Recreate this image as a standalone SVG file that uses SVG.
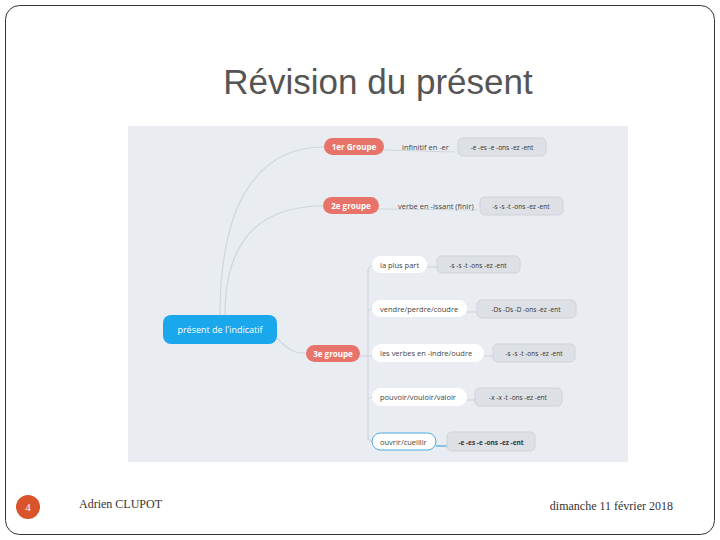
<svg xmlns="http://www.w3.org/2000/svg" width="720" height="540" viewBox="0 0 720 540">
<style>
.t{font-family:"Open Sans","Liberation Sans",sans-serif}
.red{fill:#e8736a}
.rt{font-family:"Open Sans","Liberation Sans",sans-serif;font-size:8px;font-weight:bold;fill:#fff;text-anchor:middle}
.lab{font-family:"Open Sans","Liberation Sans",sans-serif;font-size:7.5px;fill:#444}
.box{fill:#dde1e5;stroke:#cfd3d8;stroke-width:1}
.bt{font-family:"Open Sans","Liberation Sans",sans-serif;font-size:6.5px;fill:#333;text-anchor:middle}
.wp{fill:#fff}
.c{fill:none;stroke:#cfd6dc;stroke-width:1.2}
</style>
<rect x="5.5" y="5.5" width="709" height="529" rx="14" fill="#fff" stroke="#333" stroke-width="1"/>
<text x="378" y="94" font-family="Liberation Sans,sans-serif" font-size="35" fill="#555" text-anchor="middle">Révision du présent</text>
<rect x="128" y="126" width="500" height="336" fill="#e9edf1"/>
<g id="connectors">
<path class="c" d="M220 315 C220 200 260 147 324 147"/>
<path class="c" d="M225 315 C225 240 260 206 323 206"/>
<path class="c" d="M277 338 C290 352 295 353 306 353"/>
<path class="c" d="M384 150 L455 152"/>
<path class="c" d="M379 209 L478 210"/>
<path class="c" d="M360 356 L372 356"/>
<path class="c" d="M368 270 L368 440"/>
<path class="c" d="M368 272 Q368 265 375 265"/>
<path class="c" d="M368 312 Q368 309 375 309"/>
<path class="c" d="M368 400 Q368 397 375 397"/>
<path class="c" d="M368 436 Q368 442 375 442"/>
<path class="c" d="M427 267 L437 267"/>
<path class="c" d="M467 312 L477 312"/>
<path class="c" d="M484 356 L493 356"/>
<path class="c" d="M467 400 L475 400"/>
<path d="M436 446 L447 446" fill="none" stroke="#4aa8e0" stroke-width="1.2"/>
</g>
<g id="center"><rect x="163" y="315" width="114" height="29" rx="8" fill="#1aa7ec"/><text x="220" y="333" class="t" font-size="9" fill="#fff" text-anchor="middle">présent de l'indicatif</text></g>
<g id="g1"><rect x="324" y="138" width="60" height="17" rx="8.5" class="red"/><text x="354" y="150" class="rt">1er Groupe</text></g>
<g id="g1l"><text x="402" y="150" class="lab" font-size="6.5">infinitif en -er</text></g>
<g id="g1b"><rect x="458" y="138" width="88" height="18" rx="5" class="box"/><text x="502" y="150" class="bt">-e -es -e -ons -ez -ent</text></g>
<g id="g2"><rect x="323" y="197" width="56" height="17" rx="8.5" class="red"/><text x="351" y="209" class="rt">2e groupe</text></g>
<g id="g2l"><text x="398" y="209" class="lab" font-size="6.5">verbe en -issant (finir)</text></g>
<g id="g2b"><rect x="480" y="197" width="83" height="18" rx="5" class="box"/><text x="521" y="209" class="bt">-s -s -t -ons -ez -ent</text></g>
<g id="g3"><rect x="306" y="345" width="54" height="17" rx="8.5" class="red"/><text x="333" y="357" class="rt">3e groupe</text></g>
<g id="n1"><rect x="372" y="256" width="55" height="17" rx="8.5" class="wp"/><text x="380" y="268" class="lab">la plus part</text></g>
<g id="n1b"><rect x="437" y="256" width="83" height="17" rx="5" class="box"/><text x="478" y="268" class="bt">-s -s -t -ons -ez -ent</text></g>
<g id="n2"><rect x="372" y="300" width="95" height="17" rx="8.5" class="wp"/><text x="380" y="312" class="lab">vendre/perdre/coudre</text></g>
<g id="n2b"><rect x="477" y="300" width="99" height="18" rx="5" class="box"/><text x="526" y="312" class="bt">-Ds -Ds -D -ons -ez -ent</text></g>
<g id="n3"><rect x="372" y="344" width="112" height="18" rx="9" class="wp"/><text x="380" y="356" class="lab">les verbes en -indre/oudre</text></g>
<g id="n3b"><rect x="493" y="344" width="82" height="18" rx="5" class="box"/><text x="534" y="356" class="bt">-s -s -t -ons -ez -ent</text></g>
<g id="n4"><rect x="372" y="388" width="95" height="18" rx="9" class="wp"/><text x="380" y="400" class="lab">pouvoir/vouloir/valoir</text></g>
<g id="n4b"><rect x="475" y="388" width="87" height="18" rx="5" class="box"/><text x="518" y="400" class="bt" fill="#7a2a20">-x -x -t -ons -ez -ent</text></g>
<g id="n5"><rect x="372" y="433" width="64" height="17" rx="8.5" fill="#fff" stroke="#4aa8e0"/><text x="380" y="445" class="lab">ouvrir/cueillir</text></g>
<g id="n5b"><rect x="447" y="432" width="88" height="19" rx="5" class="box"/><text x="491" y="445" class="bt" font-weight="bold">-e -es -e -ons -ez -ent</text></g>
<g id="footer">
<circle cx="28" cy="507" r="12" fill="#d9542b"/>
<text x="28" y="511" font-family="Liberation Serif,serif" font-size="11" fill="#fff" text-anchor="middle">4</text>
<text x="79" y="508" font-family="Liberation Serif,serif" font-size="12" fill="#333">Adrien CLUPOT</text>
<text x="673" y="510" font-family="Liberation Serif,serif" font-size="12" fill="#333" text-anchor="end">dimanche 11 février 2018</text>
</g>
</svg>
